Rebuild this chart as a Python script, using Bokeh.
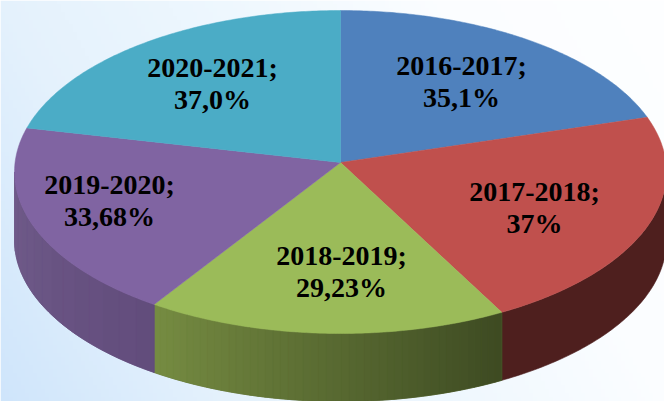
import numpy as np
from bokeh.plotting import figure
from bokeh.embed import file_html
from bokeh.resources import INLINE
from bokeh.core.properties import value

periods = ["2016-2017;", "2017-2018;", "2018-2019;", "2019-2020;", "2020-2021;"]
shares = [35.1, 37.0, 29.23, 33.68, 37.0]
share_labels = ["35,1%", "37%", "29,23%", "33,68%", "37,0%"]

# styling and layout (reference pixel coordinates)
top_colors = ["#4f81bd", "#c0504d", "#9bbb59", "#8064a2", "#4bacc6"]
label_x = [461, 534, 341, 109, 212]
label_y = [65, 191, 255, 184, 67]
line_gap = 32
CX, CY, RX, RY = 340.0, 171.5, 326.0, 161.5
APEX_Y = 162.0
DEPTH = 68.0
SHEAR = 0.0235

p = figure(width=664, height=401, x_range=(0, 664), y_range=(401, 0),
           min_border=0, toolbar_location=None, output_backend="svg")
p.axis.visible = False
p.grid.visible = False
p.outline_line_color = None
p.border_fill_color = None
p.background_fill_color = None


def hex2rgb(h):
    return np.array([int(h[i:i + 2], 16) for i in (1, 3, 5)], float)


def rgb2hex(c):
    return "#%02x%02x%02x" % tuple(int(round(v)) for v in c)


# background wash: light blue bottom-left, almost white top-right
stops_t = [0, .25, .5, .75, 1]
stops_c = np.array([hex2rgb(c) for c in ["#cfe5fb", "#e4f1fc", "#eef7fe", "#fbfdff", "#fdfeff"]])
gx, gy = np.meshgrid(np.linspace(0, 1, 166), np.linspace(0, 1, 100))
t = .75 * gx + .25 * (1 - gy)
img = np.zeros(gx.shape + (4,), dtype=np.uint8)
for i in range(3):
    img[..., i] = np.round(np.interp(t, stops_t, stops_c[:, i]))
img[..., 3] = 255
packed = np.frombuffer(img.tobytes(), dtype=np.uint32).reshape(gx.shape)
p.image_rgba(image=[packed], x=0, y=0, dw=664, dh=401)


def rim(theta):
    """Rim point for a clockwise-from-top angle, seen from the off-centre apex."""
    uy = -np.cos(theta)
    ux = np.sin(theta) - SHEAR * np.maximum(uy, 0)
    n = np.hypot(ux, uy)
    ux, uy = ux / n, uy / n
    a0 = (APEX_Y - CY) / RY
    b = a0 * uy
    s = -b + np.sqrt(b * b - (a0 * a0 - 1))
    return CX + RX * ux * s, CY + RY * (a0 + uy * s)


fracs = np.array(shares) / np.sum(shares)
edges = np.concatenate([[0], np.cumsum(fracs)]) * 2 * np.pi


def phi_of(theta):
    x, y = rim(theta)
    return np.arctan2((y - CY) / RY, (x - CX) / RX)


def wall_piece(a, b, count):
    ph = np.linspace(a, b, count)
    x = CX + RX * np.cos(ph)
    y = CY + RY * np.sin(ph)
    return np.concatenate([x, x[::-1]]).tolist(), np.concatenate([y, (y + DEPTH)[::-1]]).tolist()


# front wall: red, green, purple slices, vertical strips with a horizontal shade
walls = [
    (0.0, phi_of(edges[2]), "#4e1f1e", "#4e1f1e", 1),
    (phi_of(edges[2]), phi_of(edges[3]), "#3d4a22", "#768c42", 48),
    (phi_of(edges[3]), np.pi, "#624c7c", "#705c8a", 14),
]
xs, ys, cs = [], [], []
for a, b, c0, c1, n in walls:
    # solid base so no seam between strips shows the background
    bx, by = wall_piece(a, b, 80)
    xs.append(bx)
    ys.append(by)
    cs.append(rgb2hex((hex2rgb(c0) + hex2rgb(c1)) / 2))
    if n > 1:
        bounds = np.linspace(a, b, n + 1)
        for k in range(n):
            sx, sy = wall_piece(bounds[k], bounds[k + 1], 5)
            xs.append(sx)
            ys.append(sy)
            f = (k + .5) / n
            cs.append(rgb2hex(hex2rgb(c0) * (1 - f) + hex2rgb(c1) * f))
p.patches(xs, ys, fill_color=cs, line_color=cs, line_width=0.6)

# top face
xs, ys = [], []
for i in range(len(shares)):
    th = np.linspace(edges[i], edges[i + 1], 120)
    rx, ry = rim(th)
    xs.append([CX] + rx.tolist())
    ys.append([APEX_Y] + ry.tolist())
p.patches(xs, ys, fill_color=top_colors, line_color=top_colors, line_width=0.5)

font = value("Liberation Serif")
p.text(label_x, label_y, text=periods, text_font=font, text_font_style="bold",
       text_font_size="28px", text_color="#000000", text_align="center", text_baseline="middle")
p.text(label_x, [v + line_gap for v in label_y], text=share_labels, text_font=font,
       text_font_style="bold", text_font_size="28px", text_color="#000000",
       text_align="center", text_baseline="middle")

open("out.html", "w").write(file_html(p, INLINE))
